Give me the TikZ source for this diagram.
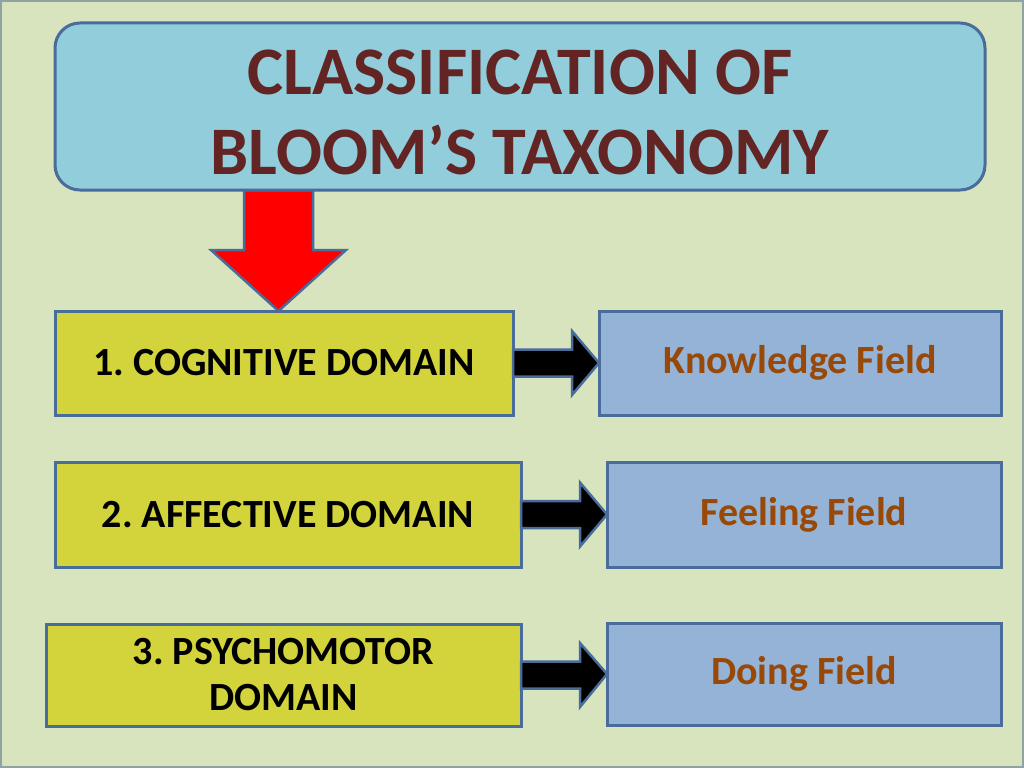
\documentclass[tikz,border=0pt]{standalone}
\usepackage{fontspec}
\setmainfont{Carlito}
\usetikzlibrary{calc}
\frenchspacing
\definecolor{bg}{HTML}{D7E4BD}
\definecolor{framec}{HTML}{8FA3A3}
\definecolor{bordc}{HTML}{4A6C9B}
\definecolor{topfill}{HTML}{92CDDC}
\definecolor{yelfill}{HTML}{D3D33C}
\definecolor{bluefill}{HTML}{95B3D7}
\definecolor{titlec}{HTML}{632523}
\definecolor{fieldc}{HTML}{984807}
\begin{document}
\frenchspacing
\begin{tikzpicture}[x=1pt,y=-1pt,
  boxbase/.style={rectangle, draw=bordc, line width=3pt, inner sep=0pt, outer sep=0pt, align=center},
  topbox/.style={boxbase, rounded corners=25pt, fill=topfill, text=titlec, font=\bfseries\fontsize{68}{80}\selectfont},
  yelbox/.style={boxbase, fill=yelfill, text=black, font=\bfseries\fontsize{40}{46}\selectfont},
  bluebox/.style={boxbase, fill=bluefill, text=fieldc, font=\bfseries\fontsize{40}{46}\selectfont},
  blkarrow/.style={fill=black, draw=bordc, line width=2.5pt, line join=miter},
  redarrow/.style={fill=red, draw=bordc, line width=2.5pt, line join=miter},
  titletext/.style={text=titlec, align=center, inner sep=0pt, font=\bfseries\fontsize{68}{80}\selectfont}]
\fill[bg] (0,0) rectangle (1024,768);
\draw[framec, line width=2pt] (1,1) rectangle (1023,767);
\useasboundingbox (0,0) rectangle (1024,768);

% row boxes
\node[yelbox, minimum width=458pt, minimum height=104pt] (y1) at (284,363) {1. COGNITIVE DOMAIN};
\node[bluebox, minimum width=402pt, minimum height=104pt] (b1) at (800,363) {Knowledge Field};
\node[yelbox, minimum width=466pt, minimum height=105pt] (y2) at (288,514.5) {2. AFFECTIVE DOMAIN};
\node[bluebox, minimum width=394pt, minimum height=105pt] (b2) at (804,514.5) {Feeling Field};
\node[yelbox, minimum width=475pt, minimum height=102pt] (y3) at (283.5,675) {3. PSYCHOMOTOR\\DOMAIN};
\node[bluebox, minimum width=394pt, minimum height=102pt] (b3) at (804,674) {Doing Field};

\coordinate (rx) at (278.5,0);
\coordinate (a) at (278.5,190);
\coordinate (t) at (y1.north -| rx);
\draw[redarrow] ($(a)+(-34.5,0)$) -- ($(a)+(34.5,0)$) -- ($(a)+(34.5,60)$) -- ($(a)+(67.5,60)$) -- (t) -- ($(a)+(-67.5,60)$) -- ($(a)+(-34.5,60)$) -- cycle;

\node[topbox, minimum width=930pt, minimum height=167pt] (top) at (520,106.5) {};
\node[titletext] (title) at (520,112) {CLASSIFICATION OF\\BLOOM’S TAXONOMY};

% black block arrows
\foreach \y/\b in {y1/b1, y2/b2, y3/b3}{
  \draw[blkarrow] ($(\y.east)+(0,-13.5)$) -- ($(\y.east)+(59,-13.5)$) -- ($(\y.east)+(59,-32)$) -- (\b.west) -- ($(\y.east)+(59,32)$) -- ($(\y.east)+(59,13.5)$) -- ($(\y.east)+(0,13.5)$) -- cycle;
}
\end{tikzpicture}
\end{document}
